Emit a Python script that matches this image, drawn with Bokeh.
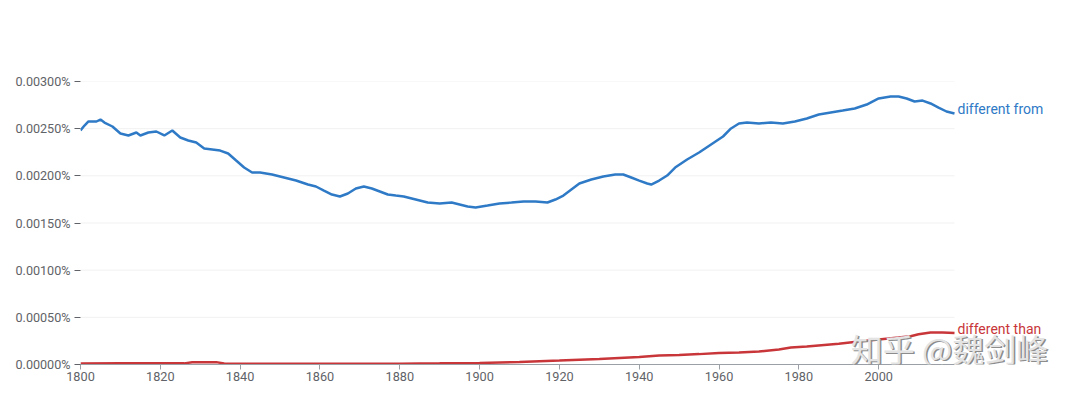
from bokeh.plotting import figure
from bokeh.models import Label, Range1d, PrintfTickFormatter, FixedTicker
from bokeh.embed import file_html
from bokeh.resources import INLINE

# --- data (percent) ---
from_years = [1800, 1801, 1802, 1804, 1805, 1806, 1808, 1810, 1812, 1814, 1815, 1817, 1819, 1821,
              1823, 1825, 1827, 1829, 1831, 1833, 1835, 1837, 1839, 1841, 1843, 1845, 1848, 1851,
              1854, 1857, 1859, 1861, 1863, 1865, 1867, 1869, 1871, 1873, 1875, 1877, 1879, 1881,
              1884, 1887, 1890, 1893, 1895, 1897, 1899, 1902, 1905, 1908, 1911, 1914, 1917, 1919,
              1921, 1923, 1925, 1928, 1931, 1934, 1936, 1938, 1940, 1942, 1943, 1945, 1947, 1949,
              1952, 1955, 1958, 1961, 1963, 1965, 1967, 1970, 1973, 1976, 1979, 1982, 1985, 1988,
              1991, 1994, 1997, 2000, 2003, 2005, 2007, 2009, 2011, 2013, 2015, 2017, 2019]
from_vals = [0.002481, 0.002533, 0.002576, 0.002576, 0.002597, 0.002565, 0.002523, 0.002449,
             0.002428, 0.002459, 0.002428, 0.002459, 0.002470, 0.002428, 0.002481, 0.002406,
             0.002375, 0.002353, 0.002290, 0.002279, 0.002268, 0.002237, 0.002162, 0.002088,
             0.002035, 0.002035, 0.002014, 0.001982, 0.001950, 0.001908, 0.001887, 0.001844,
             0.001802, 0.001781, 0.001813, 0.001866, 0.001887, 0.001866, 0.001834, 0.001802,
             0.001791, 0.001781, 0.001749, 0.001717, 0.001707, 0.001717, 0.001696, 0.001675,
             0.001664, 0.001685, 0.001707, 0.001717, 0.001728, 0.001728, 0.001717, 0.001749,
             0.001791, 0.001855, 0.001919, 0.001961, 0.001993, 0.002014, 0.002014, 0.001982,
             0.001950, 0.001919, 0.001908, 0.001950, 0.002003, 0.002088, 0.002173, 0.002247,
             0.002332, 0.002417, 0.002502, 0.002555, 0.002565, 0.002555, 0.002565, 0.002555,
             0.002576, 0.002608, 0.002650, 0.002671, 0.002692, 0.002714, 0.002756, 0.002820,
             0.002841, 0.002841, 0.002820, 0.002788, 0.002798, 0.002767, 0.002724, 0.002682,
             0.002661]

than_years = [1800, 1810, 1820, 1826, 1828, 1834, 1836, 1840, 1860, 1880, 1890, 1900, 1910, 1920,
              1930, 1940, 1945, 1950, 1955, 1960, 1965, 1970, 1975, 1978, 1982, 1990, 1995, 2000,
              2005, 2008, 2010, 2013, 2016, 2019]
than_vals = [0.000010, 0.000012, 0.000012, 0.000012, 0.000025, 0.000025, 0.000010, 0.000008,
             0.000008, 0.000009, 0.000012, 0.000016, 0.000027, 0.000042, 0.000058, 0.000080,
             0.000095, 0.000100, 0.000110, 0.000122, 0.000127, 0.000138, 0.000160, 0.000180,
             0.000190, 0.000220, 0.000244, 0.000265, 0.000286, 0.000300, 0.000320, 0.000340,
             0.000340, 0.000334]

series_names = ["different from", "different than"]
x_ticks = [1800, 1820, 1840, 1860, 1880, 1900, 1920, 1940, 1960, 1980, 2000]
y_ticks = [0.0, 0.0005, 0.0010, 0.0015, 0.0020, 0.0025, 0.0030]
watermark = "知乎 @魏剑峰"

BLUE = "#2f7ac6"
RED = "#c8363a"
GREY = "#5f6368"

W, H = 1064, 385
LEFT, TOP, BOTTOM = 80, 81, 21
DATA_W = 874  # pixel width of the data span 1800..2019
x0, x1 = from_years[0], from_years[-1]
px_per_year = DATA_W / (x1 - x0)
x_end = x0 + (W - LEFT) / px_per_year

p = figure(width=W, height=H, x_range=Range1d(x0, x_end), y_range=Range1d(y_ticks[0], y_ticks[-1]),
           output_backend="svg", toolbar_location=None,
           min_border_left=LEFT, min_border_right=0, min_border_top=TOP, min_border_bottom=BOTTOM)
p.outline_line_color = None
p.background_fill_color = "white"
p.border_fill_color = "white"

p.xgrid.grid_line_color = None
p.ygrid.grid_line_color = None

p.xaxis.ticker = FixedTicker(ticks=x_ticks)
p.xaxis.bounds = (x0, x1)
p.xaxis.axis_line_color = "#9aa0a6"
p.xaxis.major_tick_line_color = "#9aa0a6"
p.xaxis.major_tick_out = 5
p.xaxis.major_tick_in = 0
p.xaxis.minor_tick_line_color = None
p.xaxis.major_label_standoff = 2
p.xaxis.major_label_text_font = "Roboto"
p.xaxis.major_label_text_font_size = "12.7px"
p.xaxis.major_label_text_color = GREY

p.yaxis.ticker = FixedTicker(ticks=y_ticks)
p.yaxis.formatter = PrintfTickFormatter(format="%.5f%%")
p.yaxis.axis_line_color = None
p.yaxis.major_tick_line_color = GREY
p.yaxis.major_tick_out = 6
p.yaxis.major_tick_in = 0
p.yaxis.minor_tick_line_color = None
p.yaxis.major_label_standoff = 4
p.yaxis.major_label_text_font = "Roboto"
p.yaxis.major_label_text_font_size = "12.6px"
p.yaxis.major_label_text_color = GREY

# horizontal grid lines limited to the data span
gy = y_ticks[1:]
grid = p.segment(x0=[x0] * len(gy), x1=[x1] * len(gy), y0=gy, y1=gy,
                 line_color="#f1f1f1", line_width=1)
grid.level = "underlay"

p.line(from_years, from_vals, line_color=BLUE, line_width=2.5)
p.line(than_years, than_vals, line_color=RED, line_width=2.5)

for yrs, vals, name, col in [(from_years, from_vals, series_names[0], BLUE),
                             (than_years, than_vals, series_names[1], RED)]:
    p.add_layout(Label(x=yrs[-1], y=vals[-1], text=name, x_offset=3, y_offset=4,
                       text_baseline="middle", text_align="left", text_color=col,
                       text_font="Roboto", text_font_size="14px"))

# watermark
wm_x, wm_y = 1993.0, 0.00018
p.add_layout(Label(x=wm_x, y=wm_y, text=watermark, x_offset=1.5, y_offset=-1.5,
                   text_baseline="middle", text_color="#8c8c8c",
                   text_font="Noto Sans CJK SC", text_font_size="32px"))
p.add_layout(Label(x=wm_x, y=wm_y, text=watermark,
                   text_baseline="middle", text_color="#e3e3e3",
                   text_font="Noto Sans CJK SC", text_font_size="32px"))

open("out.html", "w").write(file_html(p, INLINE))
